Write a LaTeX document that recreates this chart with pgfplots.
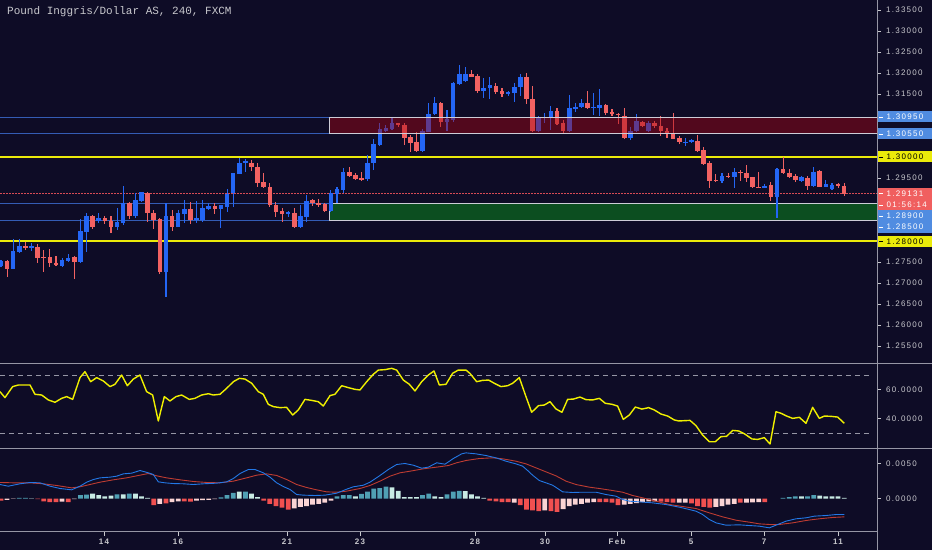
\documentclass[border=0pt]{standalone}
\usepackage{fontspec}
\setmainfont{Liberation Sans}
\newfontfamily\tickfont[LetterSpace=16]{Liberation Sans}
\newfontfamily\monofont{Liberation Mono}
\usepackage{pgfplots}
\usepackage{pgfplotstable}
\pgfplotsset{compat=1.18}

\definecolor{bg}{RGB}{14,12,38}
\definecolor{upc}{RGB}{36,102,245}
\definecolor{dnc}{RGB}{242,98,98}
\definecolor{hlin}{RGB}{52,92,180}
\definecolor{yel}{RGB}{235,235,10}
\definecolor{zoner}{RGB}{165,5,20}
\definecolor{zoneg}{RGB}{12,78,32}
\definecolor{zoneb}{RGB}{205,205,215}
\definecolor{txt}{RGB}{200,200,205}
\definecolor{sep}{RGB}{150,150,165}
\definecolor{boxb}{RGB}{80,140,225}
\definecolor{boxr}{RGB}{240,95,95}
\definecolor{rsic}{RGB}{240,240,0}
\definecolor{macdb}{RGB}{35,120,230}
\definecolor{macds}{RGB}{190,60,50}
\definecolor{ht}{RGB}{80,160,180}
\definecolor{hl}{RGB}{200,235,228}
\definecolor{hr}{RGB}{240,80,80}
\definecolor{hp}{RGB}{250,212,212}
\definecolor{pricel}{RGB}{215,75,85}

\pgfplotstableread{
i o h l c
1 1.27405 1.27548 1.27381 1.27524
3 1.27333 1.28048 1.27333 1.27762
4 1.27738 1.28048 1.27714 1.27881
6 1.27857 1.27952 1.27762 1.27860
11 1.27405 1.27595 1.27381 1.27548
12 1.27524 1.27690 1.27500 1.27595
14 1.27500 1.28524 1.27476 1.28238
15 1.28214 1.28667 1.27738 1.28595
17 1.28476 1.28667 1.28429 1.28548
20 1.28333 1.28786 1.28262 1.28452
21 1.28429 1.29310 1.28381 1.28905
23 1.28595 1.29143 1.28548 1.28976
24 1.28952 1.29167 1.28929 1.29167
28 1.27262 1.28905 1.26667 1.28595
30 1.28333 1.28738 1.28333 1.28667
31 1.28643 1.28976 1.28429 1.28762
33 1.28500 1.28952 1.28429 1.28548
34 1.28500 1.28976 1.28452 1.28786
35 1.28762 1.28905 1.28738 1.28833
37 1.28762 1.28857 1.28310 1.28857
38 1.28810 1.29238 1.28690 1.29119
39 1.29143 1.29619 1.28810 1.29619
40 1.29595 1.29976 1.29595 1.29857
41 1.29881 1.29952 1.29643 1.29884
48 1.28643 1.28714 1.28571 1.28690
50 1.28333 1.28857 1.28310 1.28595
51 1.28571 1.29095 1.28452 1.28952
55 1.28714 1.29214 1.28690 1.29143
56 1.29119 1.29286 1.28905 1.29238
57 1.29214 1.29738 1.29143 1.29643
61 1.29476 1.30048 1.29429 1.29857
62 1.29857 1.30429 1.29690 1.30310
63 1.30286 1.30810 1.30262 1.30667
64 1.30619 1.30762 1.30595 1.30690
65 1.30667 1.30952 1.30643 1.30810
70 1.30143 1.30667 1.30119 1.30619
71 1.30595 1.31286 1.30595 1.31024
72 1.31024 1.31429 1.31000 1.31286
74 1.30833 1.31119 1.30619 1.30905
75 1.30881 1.31786 1.30833 1.31762
76 1.31738 1.32190 1.31714 1.31976
77 1.31810 1.32143 1.31786 1.31976
80 1.31571 1.31881 1.31405 1.31643
81 1.31643 1.31905 1.31381 1.31714
84 1.31500 1.31571 1.31452 1.31548
85 1.31524 1.31762 1.31310 1.31667
86 1.31667 1.31976 1.31452 1.31905
89 1.30619 1.30976 1.30595 1.30952
90 1.30952 1.31048 1.30810 1.30955
91 1.30929 1.31214 1.30643 1.31095
94 1.30619 1.31476 1.30595 1.31167
95 1.31143 1.31286 1.31071 1.31190
96 1.31190 1.31381 1.31167 1.31286
98 1.31190 1.31524 1.31000 1.31193
99 1.31167 1.31619 1.30976 1.31238
104 1.30452 1.30714 1.30405 1.30619
105 1.30619 1.31024 1.30595 1.30857
107 1.30619 1.30857 1.30595 1.30810
113 1.30357 1.30452 1.30262 1.30360
114 1.30381 1.30429 1.30333 1.30384
119 1.29429 1.29619 1.29381 1.29548
121 1.29524 1.29738 1.29262 1.29643
126 1.29286 1.29357 1.29262 1.29289
128 1.29048 1.29738 1.28548 1.29714
132 1.29429 1.29548 1.29405 1.29524
134 1.29310 1.29762 1.29286 1.29643
136 1.29286 1.29452 1.29286 1.29357
137 1.29238 1.29381 1.29214 1.29333
}\upc

\pgfplotstableread{
i o h l c
2 1.27524 1.27548 1.27143 1.27333
5 1.27881 1.27976 1.27786 1.27833
7 1.27857 1.27929 1.27476 1.27595
8 1.27619 1.27786 1.27262 1.27610
9 1.27619 1.27810 1.27381 1.27476
10 1.27476 1.27643 1.27405 1.27429
13 1.27619 1.27643 1.27095 1.27500
16 1.28595 1.28619 1.28286 1.28333
18 1.28548 1.28595 1.28405 1.28476
19 1.28476 1.28595 1.28190 1.28333
22 1.28905 1.28929 1.28524 1.28595
25 1.29143 1.29167 1.28452 1.28667
26 1.28667 1.28738 1.28286 1.28500
27 1.28524 1.28548 1.27214 1.27262
29 1.28595 1.28738 1.28238 1.28333
32 1.28762 1.28929 1.28405 1.28500
36 1.28833 1.28905 1.28643 1.28762
42 1.29857 1.29929 1.29667 1.29762
43 1.29762 1.29857 1.29286 1.29381
44 1.29405 1.29619 1.29262 1.29286
45 1.29286 1.29381 1.28810 1.28857
46 1.28857 1.28929 1.28571 1.28690
47 1.28714 1.28786 1.28452 1.28643
49 1.28667 1.28786 1.28310 1.28333
52 1.28976 1.29000 1.28833 1.28905
53 1.28905 1.29000 1.28810 1.28857
54 1.28881 1.28905 1.28690 1.28714
58 1.29643 1.29762 1.29524 1.29548
59 1.29571 1.29619 1.29452 1.29476
60 1.29500 1.29643 1.29429 1.29476
66 1.30810 1.30810 1.30714 1.30762
67 1.30762 1.30810 1.30286 1.30452
68 1.30476 1.30524 1.30119 1.30333
69 1.30357 1.30595 1.30119 1.30143
73 1.31286 1.31310 1.30714 1.30833
78 1.31976 1.32071 1.31905 1.31905
79 1.31929 1.31976 1.31524 1.31571
82 1.31690 1.31762 1.31500 1.31548
83 1.31571 1.31643 1.31429 1.31500
87 1.31905 1.32000 1.31262 1.31381
88 1.31381 1.31690 1.30595 1.30619
92 1.31095 1.31167 1.30762 1.30786
93 1.30810 1.30881 1.30571 1.30619
97 1.31286 1.31571 1.31143 1.31167
100 1.31238 1.31262 1.31000 1.31048
101 1.31071 1.31143 1.30976 1.31024
102 1.31024 1.31048 1.30786 1.31021
103 1.30976 1.31167 1.30429 1.30452
106 1.30833 1.30857 1.30714 1.30738
108 1.30810 1.30857 1.30690 1.30738
109 1.30738 1.30976 1.30500 1.30619
110 1.30619 1.30690 1.30452 1.30571
111 1.30571 1.31048 1.30429 1.30429
112 1.30452 1.30500 1.30310 1.30357
115 1.30381 1.30524 1.30119 1.30143
116 1.30167 1.30238 1.29810 1.29833
117 1.29857 1.29905 1.29262 1.29429
118 1.29452 1.29595 1.29405 1.29449
120 1.29548 1.29619 1.29500 1.29545
122 1.29643 1.29690 1.29429 1.29640
123 1.29619 1.29810 1.29405 1.29500
124 1.29524 1.29524 1.29262 1.29286
125 1.29286 1.29643 1.29262 1.29283
127 1.29333 1.29405 1.28952 1.29048
129 1.29714 1.30000 1.29595 1.29619
130 1.29619 1.29714 1.29500 1.29524
131 1.29548 1.29595 1.29405 1.29452
133 1.29500 1.29548 1.29214 1.29310
135 1.29667 1.29690 1.29286 1.29286
138 1.29357 1.29381 1.29262 1.29310
139 1.29310 1.29381 1.29071 1.29131
}\dnc

\pgfplotstableread{
i v
4 0.0001
5 0.0001
14 0.0005
15 0.00057
20 0.0006
22 0.0007
37 0.00015
38 0.0005
39 0.0008
41 0.001
56 0.0003
57 0.0005
58 0.0005
60 0.00067
61 0.001
62 0.0014
63 0.0015
64 0.0017
70 0.0005
71 0.0007
74 0.0006
75 0.001
76 0.0011
129 0.0001
130 0.0002
131 0.0003
133 0.0003
134 0.0005
}\histT

\pgfplotstableread{
i v
6 0.00003
16 0.0007
17 0.0005
18 0.0003
19 0.0004
21 0.0006
23 0.0007
24 0.0003
25 0.0001
40 0.001
42 0.0007
43 0.0002
59 0.0003
65 0.0016
66 0.0011
67 0.0002
68 0.0002
69 0.0002
72 0.0003
73 0.0002
77 0.00105
78 0.0006
79 0.0003
80 0.0001
132 0.0003
135 0.0004
136 0.0003
137 0.0003
138 0.0003
139 0.0001
}\histL

\pgfplotstableread{
i v
1 -0.0003
7 -0.0001
8 -0.0004
9 -0.0005
10 -0.0005
12 -0.0005
26 -0.00095
28 -0.0007
31 -0.0004
32 -0.00043
44 -0.0003
45 -0.00076
46 -0.0011
47 -0.0013
48 -0.0016
81 -0.0003
82 -0.0004
83 -0.0005
84 -0.0005
86 -0.00095
87 -0.0016
88 -0.0017
89 -0.0018
91 -0.0018
92 -0.0019
99 -0.0005
100 -0.0005
101 -0.0006
102 -0.00095
109 -0.00043
110 -0.0005
111 -0.0006
114 -0.0007
115 -0.0011
116 -0.0012
117 -0.0013
122 -0.0006
126 -0.0005
}\histR

\pgfplotstableread{
i v
2 -0.0002
3 -0.00005
11 -0.00045
13 -0.0001
27 -0.00076
29 -0.0005
30 -0.0004
33 -0.0003
34 -0.00024
35 -0.0002
36 -0.0001
49 -0.0014
50 -0.0012
51 -0.0011
52 -0.00086
53 -0.00076
54 -0.0006
55 -0.0003
85 -0.0006
90 -0.0017
93 -0.0015
94 -0.0011
95 -0.00086
96 -0.00076
97 -0.0006
98 -0.0005
103 -0.00086
104 -0.00076
105 -0.00067
106 -0.0005
107 -0.0004
108 -0.0004
112 -0.0006
113 -0.0006
118 -0.0012
119 -0.0011
120 -0.00086
121 -0.00076
123 -0.0006
124 -0.00057
125 -0.0005
}\histP

\pgfplotsset{
  base/.style={
    scale only axis, width=877pt, anchor=south west,
    xmin=0.84, xmax=144.37,
    axis x line*=bottom, axis y line*=right,
    x axis line style={draw=none, -},
    y axis line style={draw=none, -},
    scaled y ticks=false, scaled x ticks=false,
    tick align=outside, major tick length=4pt,
    ytick style={draw=txt, line width=0.6pt},
    yticklabel style={font=\tickfont\fontsize{8}{9.5}\selectfont, text=txt, anchor=west, xshift=1.5pt},
  },
  wick/.style={draw=none, mark=none, forget plot,
    error bars/.cd, y dir=both, y explicit, error mark=none,
    error bar style={draw=#1, line width=1.1pt}},
  body/.style={draw=none, mark=none, forget plot,
    error bars/.cd, y dir=both, y explicit, error mark=none,
    error bar style={draw=#1, line width=4.6pt}},
}

\newcommand{\pbox}[4]{%
  \fill[#2] (877.5,#1-5.5) rectangle (932,#1+5.5);
  \draw[#3, line width=0.6pt] (879,#1) -- (883,#1);
  \node[anchor=west, inner sep=0pt, text=#3, font=\tickfont\fontsize{8}{9.5}\selectfont] at (886.5,#1) {#4};}

\begin{document}
\begin{tikzpicture}[x=1pt,y=1pt]
\fill[bg] (0,0) rectangle (932,550);

% ---------------- price panel ----------------
\begin{axis}[base, at={(0pt,187pt)}, height=363pt, xtick=\empty,
  ymin=1.250952, ymax=1.337381,
  ytick={1.255,1.26,1.265,1.27,1.275,1.295,1.315,1.32,1.325,1.33,1.335},
  yticklabels={1.25500,1.26000,1.26500,1.27000,1.27500,1.29500,1.31500,1.32000,1.32500,1.33000,1.33500}]
\addplot[fill=zoneg, draw=zoneb, line width=0.8pt, forget plot] coordinates {(54.68,1.2850) (144.37,1.2850) (144.37,1.2890) (54.68,1.2890)} -- cycle;
\addplot[hlin, line width=0.9pt, forget plot] coordinates {(0.84,1.3095) (144.37,1.3095)};
\addplot[hlin, line width=0.9pt, forget plot] coordinates {(0.84,1.3055) (144.37,1.3055)};
\addplot[hlin, line width=0.9pt, forget plot] coordinates {(0.84,1.2890) (54.68,1.2890)};
\addplot[hlin, line width=0.9pt, forget plot] coordinates {(0.84,1.2850) (54.68,1.2850)};
\addplot[yel, line width=1.4pt, forget plot] coordinates {(0.84,1.3000) (144.37,1.3000)};
\addplot[yel, line width=1.4pt, forget plot] coordinates {(0.84,1.2800) (144.37,1.2800)};
\addplot[pricel, line width=1pt, dash pattern=on 1.5pt off 1.5pt, forget plot] coordinates {(0.84,1.29131) (144.37,1.29131)};
\addplot[wick=upc] table[x=i, y expr={(\thisrow{h}+\thisrow{l})/2}, y error expr={(\thisrow{h}-\thisrow{l})/2}] {\upc};
\addplot[body=upc] table[x=i, y expr={(\thisrow{o}+\thisrow{c})/2}, y error expr={max(abs(\thisrow{o}-\thisrow{c})/2,0.00012)}] {\upc};
\addplot[wick=dnc] table[x=i, y expr={(\thisrow{h}+\thisrow{l})/2}, y error expr={(\thisrow{h}-\thisrow{l})/2}] {\dnc};
\addplot[body=dnc] table[x=i, y expr={(\thisrow{o}+\thisrow{c})/2}, y error expr={max(abs(\thisrow{o}-\thisrow{c})/2,0.00012)}] {\dnc};
\addplot[fill=zoner, fill opacity=0.45, draw=zoneb, line width=0.8pt, forget plot] coordinates {(54.68,1.3055) (144.37,1.3055) (144.37,1.3095) (54.68,1.3095)} -- cycle;
\end{axis}

% ---------------- RSI panel ----------------
\begin{axis}[base, at={(0pt,102pt)}, height=85pt, xtick=\empty,
  ymin=19.66, ymax=78.28, ytick={40,60}, yticklabels={40.0000,60.0000}]
\addplot[sep, line width=0.8pt, dash pattern=on 5pt off 4pt, forget plot] coordinates {(0.84,70) (143.5,70)};
\addplot[sep, line width=0.8pt, dash pattern=on 5pt off 4pt, forget plot] coordinates {(0.84,30) (143.5,30)};
\addplot[rsic, line width=1.4pt, line join=round] coordinates {
(0.84,58.5) (1.65,54.4) (2.91,62.0) (3.84,63.1) (5.75,63.1) (6.56,56.7) (7.66,56.2) (8.75,52.8) (9.84,51.2) (10.93,53.9) (11.75,55.1) (12.73,53.2) (13.93,68.2) (14.75,72.3) (15.68,65.4) (16.66,68.2) (17.75,65.9) (18.84,62.0) (19.66,63.6) (20.75,70.0) (21.68,62.6) (22.66,67.2) (23.75,70.0) (24.84,58.5) (25.82,56.2) (26.75,38.3) (27.73,55.1) (28.66,52.1) (29.64,55.1) (30.57,56.2) (31.82,53.2) (32.75,53.9) (33.84,56.2) (34.93,57.1) (35.75,56.2) (36.84,56.7) (37.93,60.8) (39.03,65.4) (40.01,67.7) (40.93,67.2) (42.03,64.3) (43.12,58.5) (43.93,56.7) (44.75,49.8) (45.57,48.2) (46.66,47.5) (47.75,47.7) (48.74,42.4) (49.66,45.9) (50.75,53.2) (51.84,52.5) (52.94,51.6) (53.75,48.6) (54.85,55.8) (55.66,56.7) (56.76,62.6) (57.85,61.3) (58.94,60.1) (59.76,59.7) (60.85,65.4) (61.94,70.5) (62.76,73.4) (63.85,73.7) (64.94,74.6) (65.76,73.4) (66.85,66.5) (67.83,63.6) (68.76,59.0) (69.85,65.4) (70.94,70.0) (71.87,72.8) (72.74,63.1) (73.83,63.6) (74.92,71.2) (75.85,73.4) (77.10,73.4) (77.75,71.1) (78.85,65.4) (79.83,66.3) (80.81,66.5) (81.74,64.3) (82.83,62.0) (83.92,62.6) (84.74,64.3) (85.83,68.2) (86.92,55.1) (87.85,44.3) (88.99,48.9) (89.92,49.3) (90.85,51.6) (91.83,46.6) (92.81,44.3) (93.74,53.2) (94.67,53.4) (95.76,54.8) (96.74,53.0) (97.83,52.8) (98.92,53.9) (99.90,50.5) (100.99,49.8) (101.92,48.6) (102.85,39.4) (103.83,42.4) (104.81,47.9) (105.90,46.5) (106.99,47.5) (107.92,45.9) (109.01,43.1) (110.11,41.7) (111.20,39.0) (111.91,38.3) (112.83,38.5) (113.76,38.7) (114.74,35.1) (115.83,28.6) (116.93,24.0) (117.91,24.0) (118.83,27.5) (119.76,27.7) (120.74,31.8) (121.73,31.4) (122.65,29.5) (123.91,25.9) (124.84,25.6) (125.93,26.8) (126.86,22.4) (127.84,44.7) (128.66,43.6) (129.58,41.7) (130.56,40.1) (131.66,40.8) (132.75,36.7) (133.84,47.7) (134.93,40.1) (135.75,41.7) (136.84,41.5) (137.93,41.0) (139.02,36.7)};
\end{axis}

% ---------------- MACD panel ----------------
\begin{axis}[base, at={(0pt,18.5pt)}, height=83.5pt,
  ymin=-0.004714, ymax=0.007214, ytick={0,0.005}, yticklabels={0.0000,0.0050},
  xtick={17.86,29.97,47.81,59.76,78.58,90.04,101.82,113.93,125.88,137.99},
  xticklabels={14,16,21,23,28,30,Feb,5,7,11},
  xtick style={draw=txt, line width=0.6pt},
  xticklabel style={font=\tickfont\bfseries\fontsize{8}{9.5}\selectfont, text=txt}]
\addplot[ybar, bar width=0.78, bar shift=0pt, fill=ht, draw=none] table[x=i, y=v] {\histT};
\addplot[ybar, bar width=0.78, bar shift=0pt, fill=hl, draw=none] table[x=i, y=v] {\histL};
\addplot[ybar, bar width=0.78, bar shift=0pt, fill=hr, draw=none] table[x=i, y=v] {\histR};
\addplot[ybar, bar width=0.78, bar shift=0pt, fill=hp, draw=none] table[x=i, y=v] {\histP};
\addplot[macds, line width=0.9pt] coordinates {
(0.84,0.00229) (3.02,0.00224) (5.75,0.00224) (7.93,0.0021) (10.11,0.00186) (12.56,0.00152) (13.93,0.00167) (15.57,0.0020) (17.2,0.00233) (19.39,0.00267) (21.57,0.00295) (23.75,0.00333) (25.11,0.00357) (26.48,0.00324) (28.11,0.00295) (30.3,0.00267) (32.48,0.00243) (34.66,0.00229) (36.84,0.00224) (39.03,0.00248) (41.21,0.00295) (42.84,0.00333) (44.48,0.00352) (46.12,0.00329) (47.75,0.00271) (49.39,0.0020) (51.03,0.00157) (52.66,0.00124) (54.3,0.00095) (55.94,0.0009) (57.57,0.00105) (59.76,0.00143) (61.39,0.00186) (63.03,0.00248) (64.66,0.00319) (66.3,0.00367) (67.94,0.0039) (70.12,0.00424) (72.3,0.00448) (74.21,0.00471) (75.57,0.0051) (77.1,0.00543) (79.28,0.00571) (81.46,0.00581) (83.1,0.00567) (85.28,0.00533) (86.92,0.00495) (88.56,0.00438) (90.19,0.00381) (91.83,0.00324) (93.47,0.00248) (95.1,0.0020) (97.29,0.00162) (98.92,0.00143) (101.1,0.00114) (102.74,0.0009) (104.38,0.00043) (106.01,0.0001) (108.2,-0.00038) (110.38,-0.00086) (112.56,-0.00114) (114.74,-0.00143) (116.93,-0.00205) (119.11,-0.00262) (121.29,-0.0031) (123.47,-0.00338) (125.11,-0.00362) (126.75,-0.00371) (128.38,-0.00371) (130.56,-0.00348) (132.75,-0.00314) (134.93,-0.0029) (137.11,-0.00271) (139.02,-0.00262)};
\addplot[macdb, line width=0.9pt] coordinates {
(0.84,0.0020) (2.2,0.00176) (4.11,0.0021) (5.75,0.00229) (7.38,0.00224) (9.02,0.00176) (10.66,0.00143) (12.56,0.00124) (13.93,0.00176) (15.02,0.00233) (16.11,0.00271) (17.2,0.00295) (18.84,0.00305) (19.93,0.00319) (21.02,0.00352) (22.39,0.00362) (23.75,0.0040) (25.11,0.00367) (25.93,0.00343) (26.75,0.00238) (27.84,0.00224) (29.2,0.00214) (30.84,0.0021) (32.48,0.0020) (34.11,0.0021) (36.3,0.00219) (37.93,0.00238) (39.03,0.00286) (40.12,0.00357) (41.48,0.00414) (42.57,0.00414) (43.93,0.00367) (45.03,0.00305) (46.12,0.00224) (47.21,0.00171) (48.3,0.00129) (49.39,0.00057) (50.48,0.00048) (52.39,0.00043) (54.03,0.00048) (55.94,0.00076) (57.57,0.00133) (58.66,0.00167) (60.3,0.0019) (61.39,0.00233) (63.03,0.00329) (64.39,0.00414) (65.76,0.00486) (67.12,0.0050) (68.48,0.00476) (69.85,0.00433) (70.94,0.00448) (72.3,0.0051) (73.67,0.0049) (75.03,0.00571) (76.4,0.00638) (77.1,0.00652) (78.74,0.00638) (80.37,0.00614) (82.01,0.00581) (83.65,0.00533) (85.28,0.00495) (86.37,0.00462) (87.19,0.0040) (88.01,0.00333) (89.1,0.00257) (90.19,0.00224) (91.28,0.0019) (92.92,0.00095) (94.56,0.00086) (96.19,0.0009) (98.38,0.0009) (100.01,0.00057) (101.65,0.00033) (102.74,-0.00014) (103.83,-0.00038) (105.47,-0.00048) (107.65,-0.00062) (109.83,-0.00086) (112.02,-0.00124) (113.65,-0.00157) (114.74,-0.00181) (115.83,-0.00229) (116.93,-0.0030) (118.02,-0.00348) (119.65,-0.00381) (121.84,-0.00376) (123.47,-0.00386) (125.11,-0.00395) (126.75,-0.00419) (127.84,-0.00381) (129.47,-0.00324) (131.11,-0.0029) (132.75,-0.00276) (134.11,-0.00252) (136.02,-0.00243) (137.66,-0.00229) (139.02,-0.00229)};
\end{axis}

% separators, x axis line and right axis line
\draw[sep, line width=0.8pt] (0,187) -- (932,187);
\draw[sep, line width=0.8pt] (0,102) -- (932,102);
\draw[sep, line width=0.8pt] (0,18.5) -- (877,18.5);
\draw[sep, line width=0.8pt] (877,0) -- (877,550);

% right-hand price boxes
\pbox{433}{boxb}{white}{1.30950}
\pbox{416}{boxb}{white}{1.30550}
\pbox{393}{yel}{black}{1.30000}
\pbox{356.5}{boxr}{white}{1.29131}
\pbox{345}{boxr}{white}{01:56:14}
\pbox{334}{boxb}{white}{1.28900}
\pbox{323}{boxb}{white}{1.28500}
\pbox{308.5}{yel}{black}{1.28000}

% title
\node[anchor=west, inner sep=0pt, text=txt, font=\monofont\fontsize{11}{13}\selectfont] at (7,538.5) {Pound Inggris/Dollar AS, 240, FXCM};

\pgfresetboundingbox
\useasboundingbox (0,0) rectangle (932,550);
\end{tikzpicture}
\end{document}
